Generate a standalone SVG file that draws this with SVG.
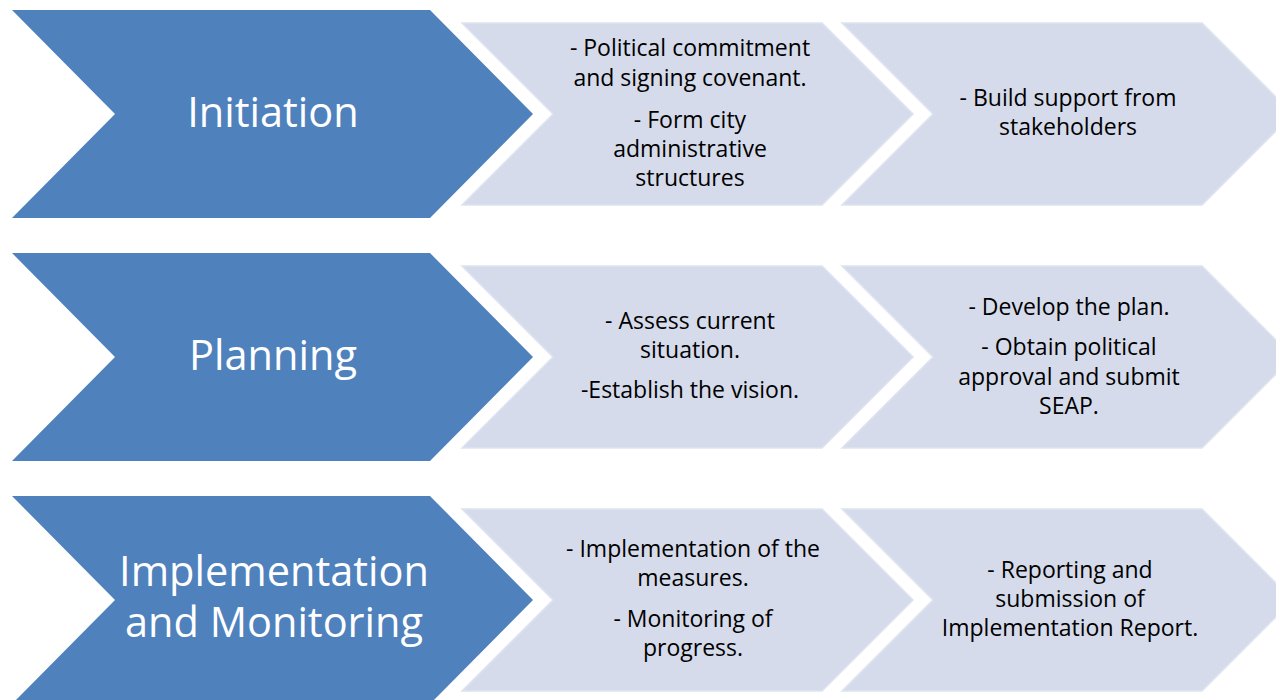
<svg xmlns="http://www.w3.org/2000/svg" xmlns:xlink="http://www.w3.org/1999/xlink" width="1276" height="700" viewBox="0 0 1276 700">
  <style>
    .stage { fill: #4F81BD; }
    .step { fill: #D5DBEA; stroke: #DEE3EF; stroke-width: 1.5; }
    .title { font-family: "Open Sans", "Liberation Sans", sans-serif; font-size: 41.5px; fill: #FFFFFF; text-anchor: middle; }
    .item { font-family: "Open Sans", "Liberation Sans", sans-serif; font-size: 23px; fill: #000000; text-anchor: middle; }
  </style>
  <defs>
    <!-- large stage chevron -->
    <polygon id="stageShape" points="12,10 430,10 533,114 430,218 12,218 115,114"/>
    <!-- detail chevrons -->
    <polygon id="stepShapeA" points="462,23 822,23 913,114 822,205 462,205 553,114"/>
    <polygon id="stepShapeB" points="842,23 1202,23 1293,114 1202,205 842,205 933,114"/>
  </defs>

  <g id="connectors"/>

  <!-- Row 1 -->
  <g id="initiation">
    <use xlink:href="#stageShape" class="stage"/>
    <text class="title" x="273" y="127">Initiation</text>
  </g>
  <g id="initiation-step1">
    <use xlink:href="#stepShapeA" class="step"/>
    <text class="item" x="690" y="56">- Political commitment</text>
    <text class="item" x="690" y="86">and signing covenant.</text>
    <text class="item" x="690" y="128">- Form city</text>
    <text class="item" x="690" y="157">administrative</text>
    <text class="item" x="690" y="186">structures</text>
  </g>
  <g id="initiation-step2">
    <use xlink:href="#stepShapeB" class="step"/>
    <text class="item" x="1068" y="106">- Build support from</text>
    <text class="item" x="1068" y="135">stakeholders</text>
  </g>

  <!-- Row 2 -->
  <g id="planning">
    <use xlink:href="#stageShape" class="stage" transform="translate(0,243)"/>
    <text class="title" x="273" y="370">Planning</text>
  </g>
  <g id="planning-step1">
    <use xlink:href="#stepShapeA" class="step" transform="translate(0,243)"/>
    <text class="item" x="690" y="329">- Assess current</text>
    <text class="item" x="690" y="358">situation.</text>
    <text class="item" x="690" y="398">-Establish the vision.</text>
  </g>
  <g id="planning-step2">
    <use xlink:href="#stepShapeB" class="step" transform="translate(0,243)"/>
    <text class="item" x="1069" y="315">- Develop the plan.</text>
    <text class="item" x="1069" y="355">- Obtain political</text>
    <text class="item" x="1069" y="385">approval and submit</text>
    <text class="item" x="1069" y="414">SEAP.</text>
  </g>

  <!-- Row 3 -->
  <g id="implementation">
    <use xlink:href="#stageShape" class="stage" transform="translate(0,486)"/>
    <text class="title" x="274" y="586">Implementation</text>
    <text class="title" x="274" y="637">and Monitoring</text>
  </g>
  <g id="implementation-step1">
    <use xlink:href="#stepShapeA" class="step" transform="translate(0,486)"/>
    <text class="item" x="693" y="557">- Implementation of the</text>
    <text class="item" x="693" y="586">measures.</text>
    <text class="item" x="693" y="627">- Monitoring of</text>
    <text class="item" x="693" y="656">progress.</text>
  </g>
  <g id="implementation-step2">
    <use xlink:href="#stepShapeB" class="step" transform="translate(0,486)"/>
    <text class="item" x="1070" y="578">- Reporting and</text>
    <text class="item" x="1070" y="607">submission of</text>
    <text class="item" x="1070" y="636">Implementation Report.</text>
  </g>
</svg>
